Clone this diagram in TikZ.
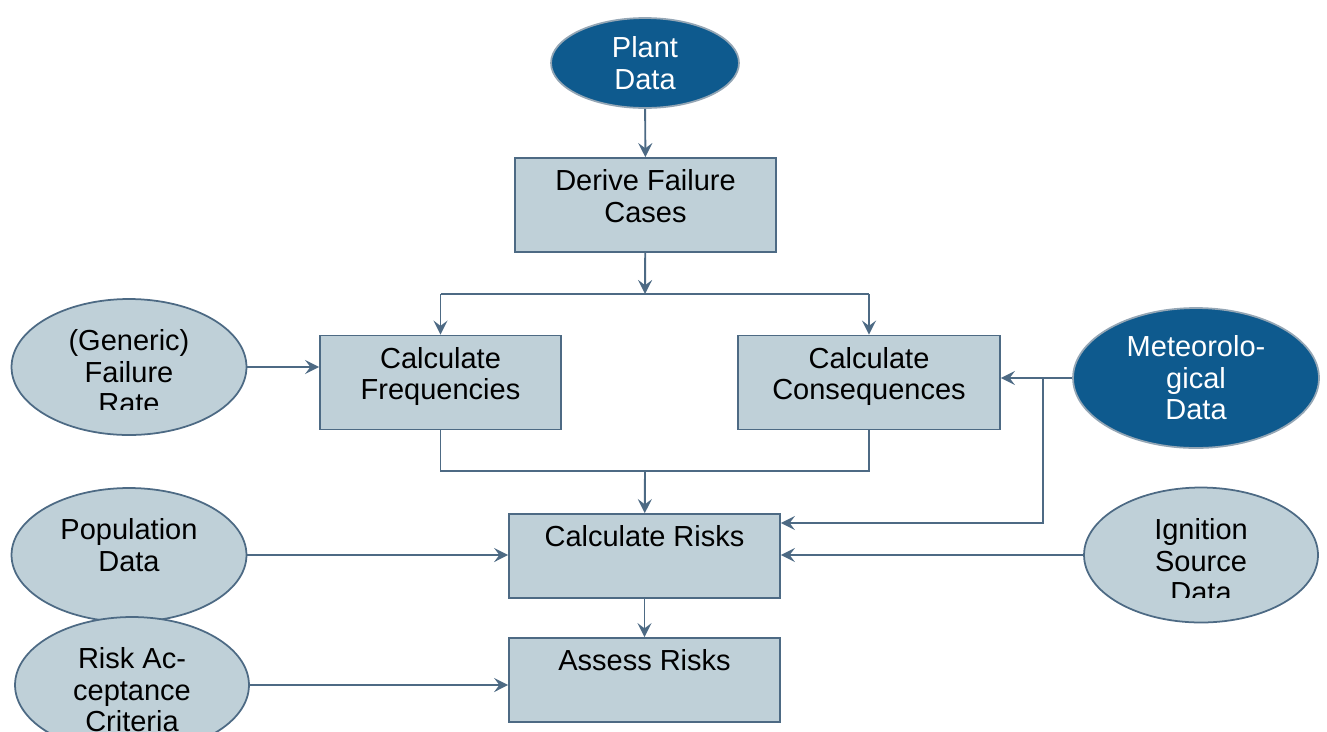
\documentclass[tikz,border=0pt]{standalone}
\usepackage{fontspec}
\setmainfont{Liberation Sans}
\usetikzlibrary{shapes.geometric,arrows.meta}
\definecolor{plantBlue}{HTML}{0E5A8E}
\definecolor{boxFill}{HTML}{BFD0D8}
\definecolor{lineGray}{HTML}{4D6A84}

\begin{document}
\begin{tikzpicture}[
    x=0.02cm, y=-0.02cm,
    every node/.style={align=center, font=\fontsize{16.5}{17.9}\selectfont},
    box/.style={rectangle, draw=lineGray, line width=1pt, fill=boxFill, inner ysep=0pt, text height=1.28cm, text depth=0.6cm},
    riskBox/.style={rectangle, draw=lineGray, line width=1pt, fill=boxFill, minimum width=5.42cm, inner ysep=0pt, text height=0.64cm, text depth=1.04cm},
    dataLight/.style={ellipse, draw=lineGray, line width=1pt, fill=boxFill, inner sep=0pt, minimum width=4.7cm, minimum height=2.72cm},
    dataDark/.style={ellipse, draw=lineGray!60, line width=1pt, fill=plantBlue, text=white, inner sep=0pt},
    link/.style={draw=lineGray, line width=1.1pt},
    arrow/.style={link, -{Stealth[length=8pt,width=8pt,inset=3pt]}}
]
\clip (0,0) rectangle (1327,731);

% Nodes
\node[dataDark, minimum width=3.76cm, minimum height=1.8cm] (plant) at (645,63) {Plant\\Data};
\node[box, minimum width=5.22cm] (derive) at (645.5,205) {Derive Failure\\Cases};
\node[box, minimum width=4.82cm] (freq) at (440.5,382.5) {Calculate\\Frequencies};
\node[box, minimum width=5.24cm] (cons) at (869,382.5) {Calculate\\Consequences};
\node[riskBox] (risks) at (644.5,556) {Calculate Risks};
\node[riskBox] (assess) at (644.5,680) {Assess Risks};
\node[dataDark, minimum width=4.92cm, minimum height=2.8cm] (meteo) at (1196,378) {Meteorolo-\\gical\\Data};
\node[dataLight] (generic) at (129,367) {};
\node[dataLight, minimum height=2.68cm] (population) at (129,555) {};
\node (populationText) at (129,545) {Population\\Data};
\node[dataLight, minimum width=4.68cm, minimum height=2.7cm] (ignition) at (1201,555) {};
\node[dataLight, minimum width=4.68cm] (criteria) at (132,685) {};
\node (criteriaText) at (132,690) {Risk Ac-\\ceptance\\Criteria};
\begin{scope}
  \clip (0,0) rectangle (1327,409);
  \node (genericText) at (129,372) {(Generic)\\Failure\\Rate};
\end{scope}
\begin{scope}
  \clip (0,0) rectangle (1327,597);
  \node (ignitionText) at (1201,561) {Ignition\\Source\\Data};
\end{scope}

\coordinate (split) at (645,294);
\coordinate (join) at (645,471);
\coordinate (tap) at (1043,378);
\coordinate (tapLow) at (1043,523);

% Arrows
\draw[arrow] (plant) -- (derive);
\draw[arrow] (derive) -- (split);
\draw[link] (split -| freq) -- (split -| cons);
\draw[arrow] (split -| freq) -- (freq);
\draw[arrow] (split -| cons) -- (cons);
\draw[link] (freq) |- (join) -| (cons);
\draw[arrow] (join) -- (risks);
\draw[arrow] (generic) -- (generic -| freq.west);
\draw[arrow] (meteo) -- (meteo -| cons.east);
\draw[arrow] (tap) -- (tapLow) -- (tapLow -| risks.east);
\draw[arrow] (ignition) -- (ignition -| risks.east);
\draw[arrow] (population) -- (population -| risks.west);
\draw[arrow] (risks) -- (assess);
\draw[arrow] (criteria) -- (criteria -| assess.west);

\end{tikzpicture}
\end{document}
